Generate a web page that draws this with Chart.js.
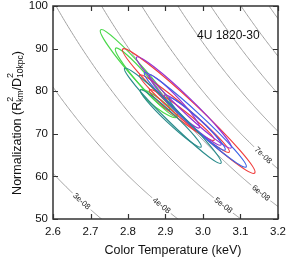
<!DOCTYPE html>
<html>
<head>
<meta charset="utf-8">
<script src="https://cdn.jsdelivr.net/npm/chart.js@4.4.1/dist/chart.umd.min.js"></script>
<style>
  html, body { margin: 0; padding: 0; background: #fff; }
</style>
</head>
<body>
<canvas id="chart" width="288" height="259"></canvas>
<script>
// axis ticks
const tempTicks = [2.6, 2.7, 2.8, 2.9, 3.0, 3.1, 3.2];
const normTicks = [50, 60, 70, 80, 90, 100];

// constant-flux curves: N * T^4 = normPerFlux * flux
const normPerFlux = 9.25e10;
const fluxLevels = [3e-8, 4e-8, 5e-8, 6e-8, 7e-8, 8e-8, 9e-8, 1e-7, 1.1e-7];
const fluxLabels = ['3e-08', '4e-08', '5e-08', '6e-08', '7e-08'];
const labelTemps = [2.676, 2.889, 3.054, 3.154, 3.16];

// confidence ellipses: upper-left tip, lower-right tip (keV, norm), minor/major ratio
const ellColors = ['#4ad84a', '#4ad84a', '#4ad84a',
                   '#f03c3c', '#f03c3c', '#f03c3c',
                   '#9632d2', '#9632d2', '#9632d2',
                   '#3c64e6', '#3c64e6',
                   '#2a8c8c', '#2a8c8c'];
const ellTopT = [2.727, 2.767, 2.833, 2.786, 2.831, 2.857, 2.823, 2.857, 2.897, 2.844, 2.910, 2.791, 2.833];
const ellTopN = [94.4, 90.1, 80.3, 89.9, 83.8, 80.3, 88.0, 83.8, 79.1, 84.3, 78.4, 85.4, 80.3];
const ellEndT = [2.932, 2.910, 2.929, 3.138, 3.070, 3.030, 3.075, 2.990, 3.048, 3.115, 3.059, 3.048, 2.995];
const ellEndN = [73.9, 75.6, 73.9, 60.8, 65.7, 68.5, 66.7, 71.4, 67.4, 62.2, 66.2, 63.1, 66.9];
const ellRatio = [0.12, 0.14, 0.2, 0.1, 0.1, 0.12, 0.107, 0.14, 0.13, 0.1, 0.13, 0.1, 0.12];

const FONT = '"Liberation Sans", Arial, sans-serif';

const overlay = {
  id: 'overlay',
  beforeDatasetsDraw(chart) {
    const { ctx, chartArea: a, scales: { x, y } } = chart;
    ctx.save();
    ctx.beginPath();
    ctx.rect(a.left, a.top, a.right - a.left, a.bottom - a.top);
    ctx.clip();

    // flux curves
    ctx.strokeStyle = '#a0a0a0';
    ctx.lineWidth = 1;
    fluxLevels.forEach(f => {
      ctx.beginPath();
      for (let i = 0; i <= 240; i++) {
        const t = 2.6 + 0.6 * i / 240;
        const px = x.getPixelForValue(t);
        const py = y.getPixelForValue(normPerFlux * f / Math.pow(t, 4));
        if (i === 0) ctx.moveTo(px, py); else ctx.lineTo(px, py);
      }
      ctx.stroke();
    });

    // curve labels
    ctx.font = '8px ' + FONT;
    ctx.textAlign = 'center';
    ctx.textBaseline = 'middle';
    fluxLabels.forEach((lab, i) => {
      const f = fluxLevels[i], t = labelTemps[i];
      const px = x.getPixelForValue(t), py = y.getPixelForValue(normPerFlux * f / Math.pow(t, 4));
      const px2 = x.getPixelForValue(t + 0.01), py2 = y.getPixelForValue(normPerFlux * f / Math.pow(t + 0.01, 4));
      ctx.save();
      ctx.translate(px, py);
      ctx.rotate(Math.atan2(py2 - py, px2 - px));
      const w = ctx.measureText(lab).width;
      ctx.fillStyle = '#fff';
      ctx.fillRect(-w / 2 - 2, -3.5, w + 4, 7);
      ctx.fillStyle = '#222';
      ctx.fillText(lab, 0, 0);
      ctx.restore();
    });

    // ellipses
    ctx.lineWidth = 1.2;
    ellColors.forEach((c, i) => {
      const x1 = x.getPixelForValue(ellTopT[i]), y1 = y.getPixelForValue(ellTopN[i]);
      const x2 = x.getPixelForValue(ellEndT[i]), y2 = y.getPixelForValue(ellEndN[i]);
      const ra = Math.hypot(x2 - x1, y2 - y1) / 2;
      ctx.beginPath();
      ctx.ellipse((x1 + x2) / 2, (y1 + y2) / 2, ra, ra * ellRatio[i], Math.atan2(y2 - y1, x2 - x1), 0, 2 * Math.PI);
      ctx.strokeStyle = c;
      ctx.stroke();
    });
    ctx.restore();
  },
  afterDraw(chart) {
    const { ctx, chartArea: a, scales: { x, y } } = chart;
    ctx.save();
    // frame and inward ticks
    ctx.strokeStyle = '#333';
    ctx.lineWidth = 1.5;
    ctx.strokeRect(a.left, a.top, a.right - a.left, a.bottom - a.top);
    ctx.lineWidth = 1.2;
    ctx.beginPath();
    tempTicks.forEach(t => {
      const px = Math.round(x.getPixelForValue(t)) + 0.5;
      ctx.moveTo(px, a.bottom); ctx.lineTo(px, a.bottom - 5);
      ctx.moveTo(px, a.top); ctx.lineTo(px, a.top + 5);
    });
    normTicks.forEach(n => {
      const py = Math.round(y.getPixelForValue(n)) + 0.5;
      ctx.moveTo(a.left, py); ctx.lineTo(a.left + 5, py);
      ctx.moveTo(a.right, py); ctx.lineTo(a.right - 5, py);
    });
    ctx.stroke();

    ctx.fillStyle = '#111';
    // source name
    ctx.font = '12px ' + FONT;
    ctx.textAlign = 'left';
    ctx.textBaseline = 'middle';
    ctx.fillText('4U 1820-30', 197, 36);

    // x title
    ctx.textAlign = 'center';
    ctx.font = '12.5px ' + FONT;
    ctx.fillText('Color Temperature (keV)', 173, 251);

    // y title with super/subscripts
    ctx.translate(21, 123);
    ctx.rotate(-Math.PI / 2);
    ctx.textAlign = 'left';
    ctx.textBaseline = 'alphabetic';
    const parts = [
      ['Normalization (R', 0, 12.5], ['2', -8, 9], ['km', 2, 8.5, true],
      ['/D', 0, 12.5], ['2', -8, 9], ['10kpc', 2, 8.5, true], [')', 0, 12.5]
    ];
    let total = 0, lastSup = 0;
    const widths = parts.map(p => { ctx.font = p[2] + 'px ' + FONT; return ctx.measureText(p[0]).width; });
    parts.forEach((p, i) => { if (p[3]) total += Math.max(0, widths[i] - widths[i - 1]); else total += widths[i]; });
    let cx = -total / 2;
    parts.forEach((p, i) => {
      ctx.font = p[2] + 'px ' + FONT;
      if (p[3]) {
        ctx.fillText(p[0], lastSup, p[1]);
        cx = Math.max(cx, lastSup + widths[i]);
      } else {
        if (p[1] < 0) lastSup = cx;
        ctx.fillText(p[0], cx, p[1]);
        cx += widths[i];
      }
    });
    ctx.restore();
  }
};

new Chart(document.getElementById('chart'), {
  type: 'scatter',
  data: { datasets: [] },
  options: {
    responsive: false,
    animation: false,
    layout: { padding: { top: 6, right: 10, left: 0, bottom: 0 } },
    plugins: { legend: { display: false }, tooltip: { enabled: false } },
    scales: {
      x: {
        type: 'linear', min: 2.6, max: 3.2,
        afterFit: s => { s.height = 40; s.paddingLeft = 0; s.paddingRight = 0; },
        afterBuildTicks: s => { s.ticks = tempTicks.map(v => ({ value: v })); },
        grid: { display: false, drawTicks: false }, border: { display: false },
        ticks: { padding: 6, color: '#111', font: { family: FONT, size: 11.5 }, callback: v => v.toFixed(1), maxRotation: 0 }
      },
      y: {
        type: 'linear', min: 50, max: 100,
        afterFit: s => { s.width = 53; s.paddingTop = 0; s.paddingBottom = 0; },
        afterBuildTicks: s => { s.ticks = normTicks.map(v => ({ value: v })); },
        grid: { display: false, drawTicks: false }, border: { display: false },
        ticks: { padding: 5, color: '#111', font: { family: FONT, size: 11.5 } }
      }
    }
  },
  plugins: [overlay]
});
</script>
</body>
</html>
